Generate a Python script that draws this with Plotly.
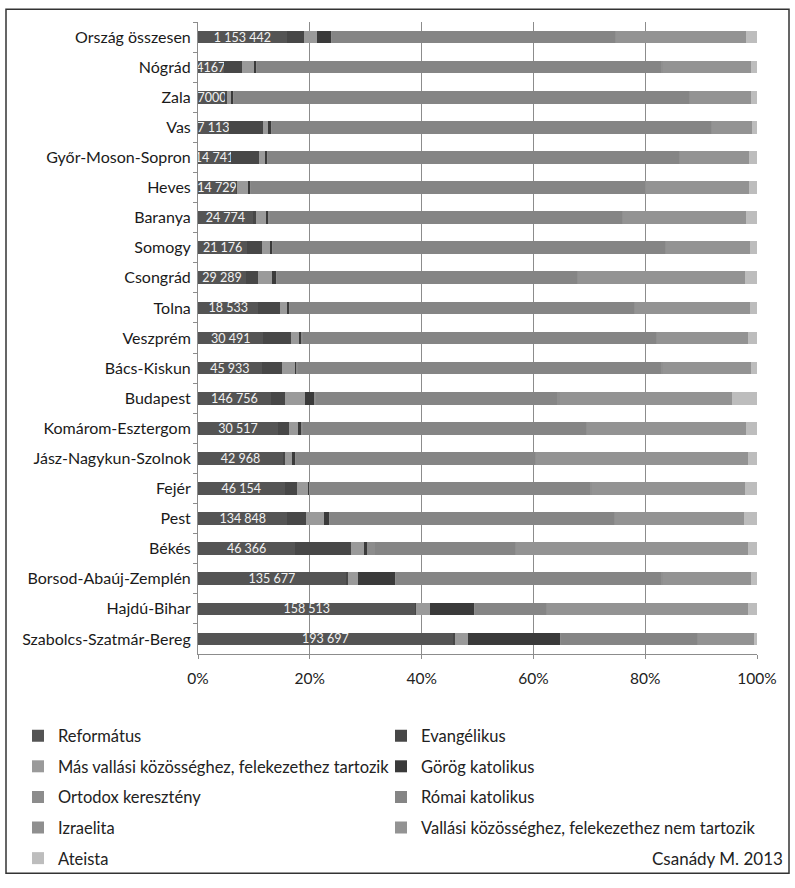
import plotly.graph_objects as go

categories = ["Ország összesen", "Nógrád", "Zala", "Vas", "Győr-Moson-Sopron", "Heves", "Baranya",
              "Somogy", "Csongrád", "Tolna", "Veszprém", "Bács-Kiskun", "Budapest",
              "Komárom-Esztergom", "Jász-Nagykun-Szolnok", "Fejér", "Pest", "Békés",
              "Borsod-Abaúj-Zemplén", "Hajdú-Bihar", "Szabolcs-Szatmár-Bereg"]

reformatus_labels = ["1 153 442", "4167", "7000", "7 113", "14 741", "14 729", "24 774", "21 176",
                     "29 289", "18 533", "30 491", "45 933", "146 756", "30 517", "42 968",
                     "46 154", "134 848", "46 366", "135 677", "158 513", "193 697"]

# shares (%)
reformatus   = [15.9, 4.6, 5.0, 5.5, 5.9, 6.8, 9.8, 8.8, 8.6, 10.8, 11.7, 11.4, 13.0, 14.3, 15.2, 15.5, 16.0, 17.4, 26.4, 38.9, 45.6]
evangelikus  = [3.1, 3.2, 0.1, 6.2, 5.0, 0.1, 0.6, 2.6, 2.2, 3.9, 4.9, 3.7, 2.6, 2.0, 0.4, 2.2, 3.4, 10.0, 0.4, 0.1, 0.4]
mas_vallasi  = [2.3, 2.3, 0.9, 0.9, 1.1, 2.1, 1.8, 1.5, 2.4, 1.2, 1.5, 2.3, 3.5, 1.6, 1.3, 1.9, 3.2, 2.3, 1.9, 2.5, 2.3]
gorog_kat    = [2.5, 0.3, 0.3, 0.5, 0.5, 0.4, 0.5, 0.4, 0.8, 0.5, 0.5, 0.3, 1.7, 0.7, 0.5, 0.4, 1.0, 0.5, 6.7, 7.9, 16.6]
ortodox      = [0.2, 0.1, 0.1, 0.1, 0.1, 0.1, 0.1, 0.1, 0.1, 0.1, 0.1, 0.1, 0.3, 0.1, 0.1, 0.1, 0.1, 1.5, 0.1, 0.1, 0.1]
romai_kat    = [50.7, 72.5, 81.6, 78.6, 73.5, 70.5, 63.2, 70.3, 53.8, 61.6, 63.3, 65.2, 43.1, 50.8, 42.9, 50.2, 50.8, 25.1, 47.5, 12.8, 24.4]
izraelita    = [0.1, 0.1, 0.1, 0.1, 0.1, 0.1, 0.1, 0.1, 0.1, 0.1, 0.1, 0.1, 0.6, 0.1, 0.1, 0.1, 0.1, 0.1, 0.1, 0.1, 0.1]
nem_tartozik = [23.2, 15.8, 10.8, 7.2, 12.4, 18.5, 21.9, 14.9, 29.9, 20.5, 16.3, 15.8, 30.7, 28.4, 37.9, 27.5, 23.1, 41.5, 15.8, 36.0, 10.0]
ateista      = [2.0, 1.1, 1.1, 0.9, 1.4, 1.4, 2.0, 1.3, 2.1, 1.3, 1.6, 1.1, 4.5, 2.0, 1.6, 2.1, 2.3, 1.6, 1.1, 1.6, 0.5]

series_names = ["Református", "Evangélikus", "Más vallási közösséghez, felekezethez tartozik",
                "Görög katolikus", "Ortodox keresztény", "Római katolikus", "Izraelita",
                "Vallási közösséghez, felekezethez nem tartozik", "Ateista"]
series_values = [reformatus, evangelikus, mas_vallasi, gorog_kat, ortodox, romai_kat,
                 izraelita, nem_tartozik, ateista]
series_colors = ["#545454", "#474747", "#9a9a9a", "#3a3a3a", "#8c8c8c", "#858585",
                 "#8f8f8f", "#939393", "#bdbdbd"]
x_ticks = [0, 20, 40, 60, 80, 100]
x_ticktext = ["0%", "20%", "40%", "60%", "80%", "100%"]

FONT = "Lato"
W, H = 795, 888
L, R, T, B = 198, 38, 22, 226
pw, ph = W - L - R, H - T - B

def px_x(px):
    return (px - L) / pw

def px_y(py):
    return (H - B - py) / ph

fig = go.Figure()
legend_layout = {}
row_y = [745, 776, 807, 838, 869]
col_x = [18, 381]
for i, (name, vals, col) in enumerate(zip(series_names, series_values, series_colors)):
    if i == 0:
        kw = dict(text=reformatus_labels, textposition="inside", insidetextanchor="middle",
                  constraintext="none", textangle=0,
                  insidetextfont=dict(color="#f2f2f2", size=12.5, family=FONT))
    else:
        kw = dict(textposition="none")
    lid = "legend" if i == 0 else "legend%d" % (i + 1)
    fig.add_trace(go.Bar(y=categories, x=vals, name=name, orientation="h",
                         marker=dict(color=col, line=dict(width=0)),
                         legend=lid, hoverinfo="skip", **kw))
    legend_layout[lid] = dict(x=px_x(col_x[i % 2]), y=px_y(row_y[i // 2]),
                              orientation="v", xanchor="left", yanchor="middle",
                              font=dict(family=FONT, size=16.5, color="#222222"),
                              bgcolor="rgba(0,0,0,0)")

fig.update_layout(
    width=W, height=H,
    margin=dict(l=L, r=R, t=T, b=B, pad=0),
    paper_bgcolor="white", plot_bgcolor="white",
    barmode="stack", barnorm="percent", bargap=0.58,
    font=dict(family=FONT, size=15, color="#222222"),
    showlegend=True,
    xaxis=dict(range=[0, 100], tickvals=x_ticks, ticktext=x_ticktext,
               showgrid=True, gridcolor="#8c8c8c", gridwidth=1,
               showline=True, linecolor="#8c8c8c", linewidth=1,
               ticks="outside", ticklen=4, tickcolor="#8c8c8c", ticklabelstandoff=6,
               tickfont=dict(size=15.5, color="#222222"), zeroline=False, fixedrange=True),
    yaxis=dict(categoryorder="array", categoryarray=categories, autorange="reversed",
               showline=True, linecolor="#8c8c8c", linewidth=1,
               ticks="outside", ticklen=4, tickcolor="#8c8c8c", tickson="boundaries",
               ticklabelstandoff=3,
               tickfont=dict(size=16, color="#1a1a1a"), showgrid=False, fixedrange=True),
    shapes=[dict(type="rect", xref="paper", yref="paper",
                 x0=px_x(6), x1=px_x(789), y0=px_y(884), y1=px_y(9),
                 line=dict(color="#333333", width=1.5), fillcolor="rgba(0,0,0,0)")],
    annotations=[dict(text="Csanády M. 2013", xref="paper", yref="paper",
                      x=px_x(785), y=px_y(869), xanchor="right", yanchor="middle",
                      showarrow=False, font=dict(family=FONT, size=17, color="#222222"))],
    **legend_layout,
)

fig.write_html("out.html")
